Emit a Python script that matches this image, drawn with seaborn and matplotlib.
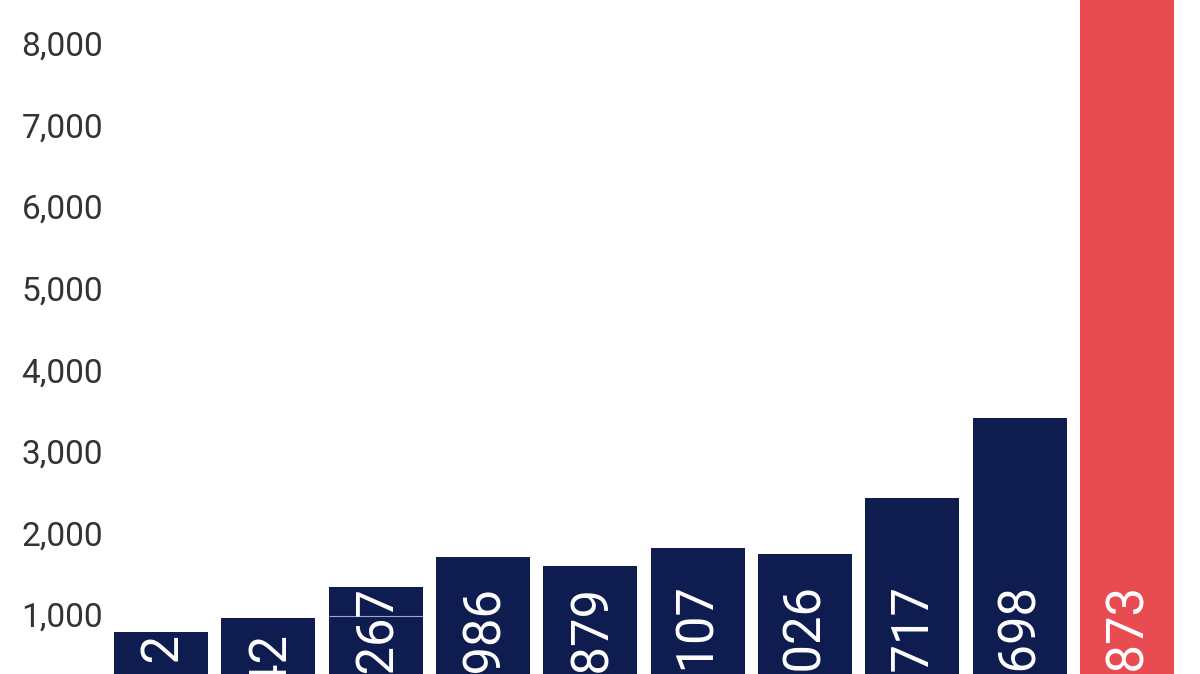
import matplotlib
matplotlib.use("Agg")
import matplotlib.pyplot as plt
import matplotlib.transforms as mtransforms
import seaborn as sns

# ---- data ----
categories = ["C1", "C2", "C3", "C4", "C5", "C6", "C7", "C8", "C9", "C10"]
bar_heights = [1073, 1244, 1624, 1986, 1879, 2107, 2026, 2717, 3698, 8873]
label_values = [1012, 1242, 1267, 1986, 1879, 2107, 2026, 2717, 3698, 8873]
highlight = [False] * 9 + [True]
y_ticks = [1000, 2000, 3000, 4000, 5000, 6000, 7000, 8000]

NAVY = "#0e1c50"
RED = "#e84c50"

sns.set_theme(style="white")
plt.rcParams["font.family"] = ["Roboto", "DejaVu Sans"]

W, H, DPI = 1200, 674, 100
fig = plt.figure(figsize=(W / DPI, H / DPI), dpi=DPI)
ax = fig.add_axes([110 / W, (H - 719.5) / H, 1090 / W, 719.5 / H])

colors = [RED if h else NAVY for h in highlight]
sns.barplot(x=categories, y=bar_heights, hue=categories, palette=colors,
            legend=False, width=0.876, saturation=1, ax=ax, linewidth=0)

ax.set_xlim(-0.475, 9.68)
ax.set_ylim(0, 8820)
px_per_unit = 719.5 / 8820

# faint line where the label value is clearly below the drawn bar top
for i, (h, v) in enumerate(zip(bar_heights, label_values)):
    if h - v > 200:
        ax.hlines(v, i - 0.438, i + 0.438, color="#c8cce0", linewidth=0.8, alpha=0.8)

# rotated value labels inside bars, anchored at the base
for i, (h, v) in enumerate(zip(bar_heights, label_values)):
    fits = h * px_per_unit >= 120
    off_px = 12 if fits else -34
    ax.annotate(f"{v:,}", xy=(i, 0), xytext=(0, off_px * 72 / DPI),
                textcoords="offset points", rotation=90, ha="center",
                va="bottom", color="white", fontsize=36.5,
                annotation_clip=False)

ax.set_yticks(y_ticks)
ax.set_yticklabels([f"{t:,}" for t in y_ticks])
ax.tick_params(axis="y", length=0, pad=5, labelsize=24, labelcolor="#333333")
ax.tick_params(axis="x", length=0, labelbottom=False)
ax.set_xlabel("")
ax.set_ylabel("")
shift = mtransforms.ScaledTranslation(0, 23.5 / DPI, fig.dpi_scale_trans)
for lab in ax.get_yticklabels():
    lab.set_transform(lab.get_transform() + shift)
for s in ax.spines.values():
    s.set_visible(False)
ax.grid(False)

fig.savefig("out.png", dpi=DPI)
